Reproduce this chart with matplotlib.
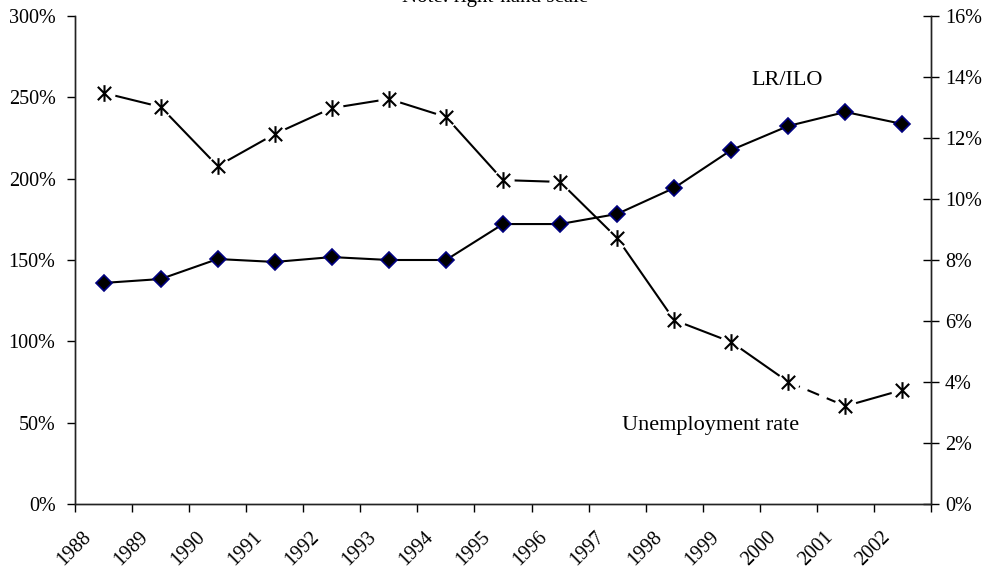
import matplotlib.pyplot as plt
from matplotlib.path import Path
from matplotlib.transforms import ScaledTranslation

plt.rcParams['font.family'] = ['Liberation Serif', 'DejaVu Serif']

# Data
years = [str(y) for y in range(1988, 2003)]
lr_ilo = [135.9, 138.3, 150.6, 148.8, 151.8, 150.0, 150.0, 172.1, 172.1, 178.3,
          194.3, 217.6, 232.4, 241.0, 233.6]          # percent, left axis
unemployment = [13.48, 13.02, 11.08, 12.13, 12.98, 13.28, 12.69, 10.62, 10.56, 8.72,
                6.03, 5.31, 4.00, 3.21, 3.74]         # percent, right axis

x = list(range(len(years)))

# asterisk marker: X plus vertical bar
star = Path([(-1, -1), (1, 1), (-1, 1), (1, -1), (0, -1.25), (0, 1.25)],
            [Path.MOVETO, Path.LINETO, Path.MOVETO, Path.LINETO, Path.MOVETO, Path.LINETO])

fig = plt.figure(figsize=(9.9, 5.71), dpi=100)
ax = fig.add_axes([75 / 990, 1 - 504 / 571, (931 - 75) / 990, (504 - 16) / 571])
ax2 = ax.twinx()

# LR/ILO on the left axis
ax.plot(x, lr_ilo, color='black', lw=1.5, marker='D', markersize=8,
        markerfacecolor='black', markeredgecolor='#000080', markeredgewidth=1.2, zorder=3)

# Unemployment on the right axis (segment 2000-2001 dashed)
ax2.plot(x[:13], unemployment[:13], color='black', lw=1.5, zorder=2)
ax2.plot(x[12:14], unemployment[12:14], color='black', lw=1.5, ls=(0, (6, 4)), zorder=2)
ax2.plot(x[13:], unemployment[13:], color='black', lw=1.5, zorder=2)
ax2.plot(x, unemployment, ls='none', marker='o', markersize=15,
         markerfacecolor='white', markeredgecolor='white', zorder=3)
ax2.plot(x, unemployment, ls='none', marker=star, markersize=12,
         markerfacecolor='none', markeredgecolor='black', markeredgewidth=1.5, zorder=4)

ax.set_xlim(-0.5, len(years) - 0.5)
ax.set_ylim(0, 300)
ax2.set_ylim(0, 16)

ax.set_yticks(range(0, 301, 50))
ax.set_yticklabels([f'{v}%' for v in range(0, 301, 50)])
ax2.set_yticks(range(0, 17, 2))
ax2.set_yticklabels([f'{v}%' for v in range(0, 17, 2)])

ax.set_xticks([i - 0.5 for i in range(len(years) + 1)])
ax.set_xticklabels([])
ax.set_xticks(x, minor=True)
ax.set_xticklabels(years, minor=True, rotation=45, ha='right', va='top',
                   rotation_mode='anchor')
ax.tick_params(axis='x', which='minor', length=0, pad=17, labelsize=14.5)
ax.tick_params(axis='x', which='major', direction='out', length=6, width=1)
ax.tick_params(axis='y', direction='out', length=6, width=1, labelsize=14.5, pad=8)
ax2.tick_params(axis='y', direction='inout', length=12, width=1, labelsize=14.5, pad=4)

shift = ScaledTranslation(-22 / 100, 0, fig.dpi_scale_trans)
for lab in ax.get_xticklabels(minor=True):
    lab.set_transform(lab.get_transform() + shift)

for a in (ax, ax2):
    a.spines['top'].set_visible(False)
    for s in ('left', 'right', 'bottom'):
        a.spines[s].set_linewidth(1)
        a.spines[s].set_color('#222222')

ax.text(11.98, 260.5, 'LR/ILO', fontsize=16, ha='center', va='center')
ax.text(10.63, 48.5, 'Unemployment rate', fontsize=16, ha='center', va='center')
# title line mostly cut off by the top edge, as in the reference
fig.text(0.50, 0.9968, 'Note: right-hand scale', fontsize=15, ha='center', va='baseline')

fig.savefig('out.png', dpi=100)
